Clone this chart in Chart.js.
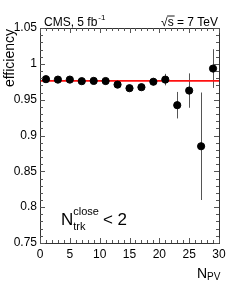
<!DOCTYPE html>
<html>
<head>
<meta charset="utf-8">
<script src="https://cdn.jsdelivr.net/npm/chart.js@4/dist/chart.umd.min.js"></script>
<style>
html,body{margin:0;padding:0;background:#fff;}
#wrap{width:249px;height:281px;position:relative;}
</style>
</head>
<body>
<div id="wrap"><canvas id="c" width="249" height="281"></canvas></div>
<script>
// ---- data ----
const nPV = [1, 3, 5, 7, 9, 11, 13, 15, 17, 19, 21, 23, 25, 27, 29];
const efficiency = [0.9786, 0.978, 0.978, 0.9758, 0.9762, 0.976, 0.971, 0.966, 0.9674, 0.975, 0.978, 0.9423, 0.9627, 0.885, 0.9934];
const effError = [0.003, 0.003, 0.003, 0.003, 0.003, 0.003, 0.003, 0.004, 0.004, 0.005, 0.008, 0.0185, 0.024, 0.075, 0.027];
const fitValue = 0.9762;
const fitRange = [0, 30];
const xTickLabels = ['0', '5', '10', '15', '20', '25', '30'];
const yTickLabels = ['0.75', '0.8', '0.85', '0.9', '0.95', '1', '1.05'];
const titleLeft = 'CMS, 5 fb';
const titleLeftSup = '-1';
const titleRightRoot = '\u221A';
const titleRight = 's = 7 TeV';
const yTitle = 'efficiency';
const xTitle = 'N';
const xTitleSub = 'PV';
const cutLabel = ['N', 'close', 'trk', '< 2'];

const FONT = '"Liberation Sans", Arial, Helvetica, sans-serif';

const points = nPV.map((x, i) => ({x: x, y: efficiency[i]}));
const fitLine = fitRange.map(x => ({x: x, y: fitValue}));

const rootStyle = {
  id: 'rootStyle',
  beforeDatasetsDraw(chart) {
    const ctx = chart.ctx;
    const xs = chart.scales.x, ys = chart.scales.y;
    ctx.save();
    ctx.strokeStyle = '#555';
    ctx.lineWidth = 1;
    nPV.forEach((x, i) => {
      const px = Math.round(xs.getPixelForValue(x)) + 0.5;
      ctx.beginPath();
      ctx.moveTo(px, ys.getPixelForValue(efficiency[i] + effError[i]));
      ctx.lineTo(px, ys.getPixelForValue(efficiency[i] - effError[i]));
      ctx.stroke();
    });
    ctx.restore();
  },
  afterDraw(chart) {
    const ctx = chart.ctx;
    const a = chart.chartArea;
    const xs = chart.scales.x, ys = chart.scales.y;
    ctx.save();
    ctx.strokeStyle = '#333';
    ctx.lineWidth = 1;
    ctx.strokeRect(a.left + 0.5, a.top + 0.5, a.right - a.left, a.bottom - a.top);
    ctx.strokeStyle = '#555';
    ctx.beginPath();
    for (let v = 0; v <= 30; v += 1) {
      const px = Math.round(xs.getPixelForValue(v)) + 0.5;
      const len = (v % 5 === 0) ? 5 : 3;
      ctx.moveTo(px, a.bottom); ctx.lineTo(px, a.bottom - len);
      ctx.moveTo(px, a.top); ctx.lineTo(px, a.top + len);
    }
    for (let k = 0; k <= 30; k++) {
      const v = 0.75 + k * 0.01;
      const py = Math.round(ys.getPixelForValue(v)) + 0.5;
      const len = (k % 5 === 0) ? 5 : 3;
      ctx.moveTo(a.left, py); ctx.lineTo(a.left + len, py);
      ctx.moveTo(a.right, py); ctx.lineTo(a.right - len, py);
    }
    ctx.stroke();

    ctx.fillStyle = '#000';
    ctx.textBaseline = 'alphabetic';
    ctx.font = '12px ' + FONT;
    ctx.textAlign = 'left';
    ctx.fillText(titleLeft, 44, 26);
    let w = ctx.measureText(titleLeft).width;
    ctx.font = '8px ' + FONT;
    ctx.fillText(titleLeftSup, 44 + w + 1, 20);
    // top-right
    ctx.font = '12px ' + FONT;
    ctx.textAlign = 'right';
    ctx.fillText(titleRight, 218, 26);
    w = ctx.measureText(titleRight).width;
    const sx = 218 - w;
    ctx.fillText(titleRightRoot, sx, 26);
    ctx.beginPath();
    ctx.strokeStyle = '#000';
    ctx.lineWidth = 0.9;
    ctx.moveTo(sx - 0.5, 16); ctx.lineTo(sx + 7, 16);
    ctx.stroke();
    // y title
    ctx.save();
    ctx.translate(14, 29);
    ctx.rotate(-Math.PI / 2);
    ctx.font = '14px ' + FONT;
    ctx.textAlign = 'right';
    ctx.fillText(yTitle, 0, 0);
    ctx.restore();
    // x title
    ctx.font = '14px ' + FONT;
    ctx.textAlign = 'left';
    ctx.fillText(xTitle, 197, 278);
    w = ctx.measureText(xTitle).width;
    ctx.font = '10px ' + FONT;
    ctx.fillText(xTitleSub, 197 + w, 280);
    // cut label
    ctx.font = '17px ' + FONT;
    ctx.fillText(cutLabel[0], 61, 225);
    w = ctx.measureText(cutLabel[0]).width;
    ctx.font = '11px ' + FONT;
    ctx.fillText(cutLabel[1], 61 + w, 215);
    ctx.fillText(cutLabel[2], 61 + w, 230);
    const w2 = ctx.measureText(cutLabel[1]).width;
    ctx.font = '17px ' + FONT;
    ctx.fillText(cutLabel[3], 61 + w + w2 + 4, 225);
    ctx.restore();
  }
};

new Chart(document.getElementById('c'), {
  type: 'scatter',
  data: {
    datasets: [
      {
        type: 'line',
        data: fitLine,
        borderColor: '#ff1010',
        borderWidth: 1.6,
        pointRadius: 0,
        fill: false,
        order: 2
      },
      {
        data: points,
        backgroundColor: '#000',
        borderColor: '#000',
        pointRadius: 3.6,
        pointHoverRadius: 3.6,
        order: 1
      }
    ]
  },
  plugins: [rootStyle],
  options: {
    responsive: false,
    animation: false,
    devicePixelRatio: 1,
    layout: {padding: {top: 28, right: 30, left: 0, bottom: 0}},
    plugins: {legend: {display: false}, tooltip: {enabled: false}},
    scales: {
      x: {
        type: 'linear',
        min: 0, max: 30,
        grid: {display: false, drawTicks: false},
        border: {display: false},
        afterFit(scale) { scale.height = 38; },
        afterBuildTicks(scale) { scale.ticks = xTickLabels.map(t => ({value: parseFloat(t)})); },
        ticks: {
          padding: 4,
          color: '#000',
          font: {family: FONT, size: 12},
          maxRotation: 0,
          autoSkip: false,
          callback: (v, i) => xTickLabels[i]
        }
      },
      y: {
        type: 'linear',
        min: 0.75, max: 1.05,
        grid: {display: false, drawTicks: false},
        border: {display: false},
        afterFit(scale) { scale.width = 40; },
        afterBuildTicks(scale) { scale.ticks = yTickLabels.map(t => ({value: parseFloat(t)})); },
        ticks: {
          padding: 3,
          color: '#000',
          font: {family: FONT, size: 12},
          autoSkip: false,
          callback: (v, i) => yTickLabels[i]
        }
      }
    }
  }
});
</script>
</body>
</html>
